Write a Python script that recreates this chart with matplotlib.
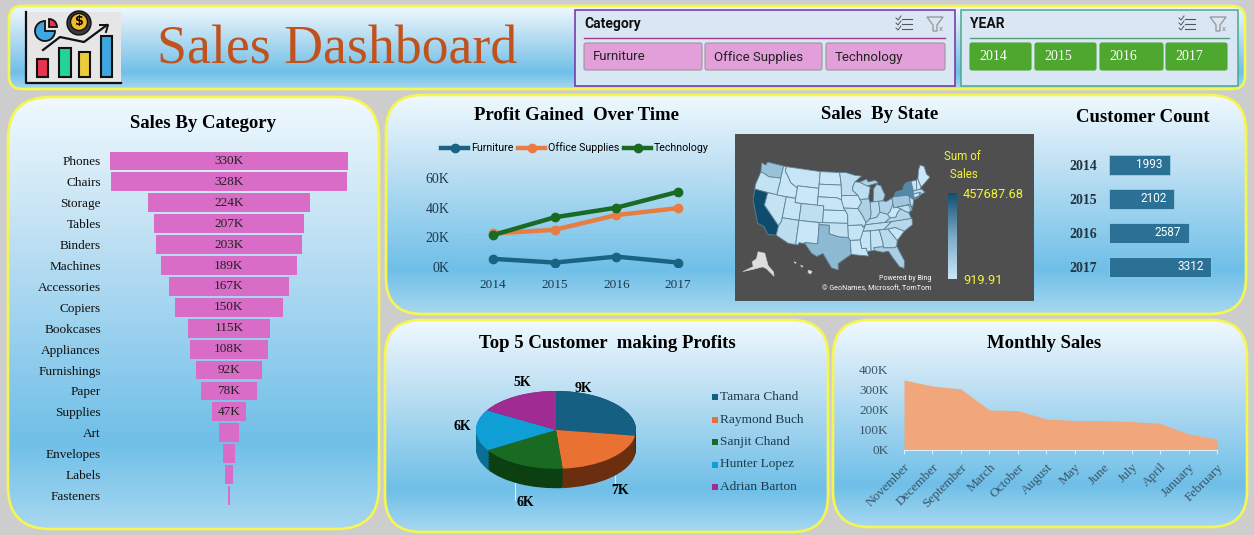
import numpy as np
import matplotlib
matplotlib.use("Agg")
import matplotlib.pyplot as plt
from matplotlib.colors import LinearSegmentedColormap
from matplotlib.patches import FancyBboxPatch, Rectangle, Circle, Wedge, Polygon

W, H = 1254, 535
SERIF = "Liberation Serif"
SANS = "Roboto"

# chart data
categories = ["Phones", "Chairs", "Storage", "Tables", "Binders", "Machines", "Accessories",
              "Copiers", "Bookcases", "Appliances", "Furnishings", "Paper", "Supplies",
              "Art", "Envelopes", "Labels", "Fasteners"]
category_sales = [330, 328, 224, 207, 203, 189, 167, 150, 115, 108, 92, 78, 47, 27, 16, 12, 3]
category_labels = ["330K", "328K", "224K", "207K", "203K", "189K", "167K", "150K", "115K",
                   "108K", "92K", "78K", "47K", "", "", "", ""]

years = [2014, 2015, 2016, 2017]
furniture_profit = [5.5, 3.0, 7.0, 3.0]
office_profit = [22.6, 25.1, 35.0, 39.7]
technology_profit = [21.5, 33.5, 40.0, 50.7]
customer_count = [1993, 2102, 2587, 3312]

top_customers = ["Tamara Chand", "Raymond Buch", "Sanjit Chand", "Hunter Lopez", "Adrian Barton"]
customer_profit = [8981, 6976, 5757, 5622, 5444]

months = ["November", "December", "September", "March", "October", "August", "May", "June",
          "July", "April", "January", "February"]
monthly_sales = [350, 320, 305, 200, 197, 155, 148, 147, 142, 133, 80, 55]

state_sales = {"CA": 457687.68, "NY": 310876, "TX": 170188, "WA": 138641, "PA": 116511, "FL": 89473,
               "IL": 80166, "OH": 78258, "MI": 76269, "VA": 70636, "NC": 55603, "IN": 53555,
               "GA": 49095, "KY": 36591, "NJ": 35764, "AZ": 35282, "WI": 32114, "CO": 32108,
               "TN": 30661, "MN": 29863, "MA": 28634, "DE": 27451, "MD": 23705, "RI": 22627,
               "MO": 22205, "OK": 19683, "AL": 19510, "OR": 17431, "NV": 16729, "CT": 13384,
               "AR": 11678, "UT": 11220, "MS": 10771, "LA": 9217, "VT": 8929, "SC": 8481,
               "NE": 7464, "NH": 7292, "MT": 5589, "NM": 4783, "IA": 4579, "ID": 4382,
               "KS": 2914, "WY": 1603, "SD": 1315, "ME": 1270, "WV": 1209, "ND": 919.91}

# rough state outlines, lon/lat
states = {
    "WA": [(-124.7,48.4),(-123,48.2),(-122.8,49),(-117,49),(-117,46),(-119,45.9),(-121,45.7),(-123,46.2),(-124,46.3)],
    "OR": [(-124,46.3),(-123,46.2),(-121,45.7),(-119,45.9),(-117,46),(-116.9,45),(-117,44),(-117,42),(-124.2,42),(-124.5,43)],
    "CA": [(-124.2,42),(-120,42),(-120,39),(-114.6,35),(-114.7,32.7),(-117.1,32.5),(-118.5,34),(-120.6,34.5),(-122,36.8),(-123.8,39.5)],
    "NV": [(-120,42),(-114,42),(-114,36.2),(-114.6,35),(-120,39)],
    "ID": [(-117,49),(-116,49),(-116,47.9),(-114.5,46.6),(-113.5,45.5),(-111,44.5),(-111,42),(-117,42),(-117,44),(-116.9,45),(-117,46)],
    "MT": [(-116,49),(-104,49),(-104,45),(-111,45),(-111,44.5),(-113.5,45.5),(-114.5,46.6),(-116,47.9)],
    "WY": [(-111,45),(-104,45),(-104,41),(-111,41)],
    "UT": [(-114,42),(-111,42),(-111,41),(-109,41),(-109,37),(-114,37)],
    "AZ": [(-114,37),(-114,36.2),(-114.6,35),(-114.7,32.7),(-111,31.3),(-109,31.3),(-109,37)],
    "CO": [(-109,41),(-102,41),(-102,37),(-109,37)],
    "NM": [(-109,37),(-103,37),(-103,32),(-106.6,32),(-106.5,31.8),(-108.2,31.8),(-108.2,31.3),(-109,31.3)],
    "ND": [(-104,49),(-97.2,49),(-96.6,46),(-104,46)],
    "SD": [(-104,46),(-96.6,46),(-96.5,42.5),(-98,43),(-104,43)],
    "NE": [(-104,43),(-98,43),(-96.5,42.5),(-95.3,40),(-102,40),(-102,41),(-104,41)],
    "KS": [(-102,40),(-95.3,40),(-94.6,39),(-94.6,37),(-102,37)],
    "OK": [(-103,37),(-94.6,37),(-94.5,33.7),(-97,33.8),(-100,34.5),(-100,36.5),(-103,36.5)],
    "TX": [(-103,36.5),(-100,36.5),(-100,34.5),(-97,33.8),(-94.5,33.7),(-94,33),(-93.8,29.7),(-95,29),(-97.3,27.5),(-97.2,26),(-99,26.5),(-101.4,29.8),(-103,29),(-104.5,29.7),(-106.5,31.8),(-106.6,32),(-103,32)],
    "MN": [(-97.2,49),(-95,49),(-92,48.3),(-89.6,48),(-92,46.7),(-92.8,45.5),(-92.8,44.7),(-91.2,43.5),(-96.5,43.5),(-96.6,46)],
    "IA": [(-96.5,43.5),(-91.2,43.5),(-90.2,41.8),(-91.4,40.4),(-95.8,40.6),(-96.5,42.5)],
    "MO": [(-95.8,40.6),(-91.4,40.4),(-90.2,38.8),(-89.2,37),(-89.5,36.5),(-90.3,36),(-90.4,36.5),(-94.6,36.5),(-94.6,39),(-95.3,40)],
    "AR": [(-94.6,36.5),(-90.4,36.5),(-90.3,36),(-89.7,36),(-91.2,33),(-94,33),(-94.5,33.7)],
    "LA": [(-94,33),(-91.2,33),(-90.9,31),(-89.7,31),(-89.5,30.2),(-89.2,29.1),(-91.5,29.4),(-93.8,29.7)],
    "WI": [(-92,46.7),(-90.4,46.6),(-88,45.6),(-87,45.2),(-87.8,43),(-87.8,42.5),(-90.6,42.5),(-91.2,43.5),(-92.8,44.7),(-92.8,45.5)],
    "IL": [(-90.6,42.5),(-87.8,42.5),(-87.5,41.7),(-87.5,39),(-88,37.8),(-89.2,37),(-90.2,38.8),(-91.4,40.4),(-90.2,41.8)],
    "MI": [(-86.5,41.8),(-84.8,41.7),(-83.4,41.7),(-82.5,43),(-83,44),(-83.5,45.3),(-84.8,45.7),(-86,44.7),(-86.3,43)],
    "IN": [(-87.5,41.7),(-84.8,41.7),(-84.8,39.1),(-86,38),(-88,37.8),(-87.5,39)],
    "OH": [(-84.8,41.7),(-83.4,41.7),(-82.5,41.4),(-80.5,42),(-80.5,40.6),(-81.7,39),(-82.6,38.4),(-84.8,39.1)],
    "KY": [(-89.5,36.5),(-83.7,36.6),(-82,37.5),(-82.6,38.4),(-84.8,39.1),(-86,38),(-88,37.8),(-89.2,37)],
    "TN": [(-90.3,35),(-84.3,35),(-81.7,36.6),(-83.7,36.6),(-89.5,36.5),(-89.7,36)],
    "MS": [(-91.2,33),(-90.3,35),(-88.2,35),(-88.4,30.3),(-89.5,30.2),(-89.7,31),(-90.9,31)],
    "AL": [(-88.2,35),(-85.6,35),(-85,32),(-85,31),(-87.6,31),(-87.5,30.3),(-88.4,30.3)],
    "GA": [(-85.6,35),(-83.1,35),(-81,32),(-81.4,30.7),(-82,30.4),(-84.9,30.7),(-85,31),(-85,32)],
    "FL": [(-87.6,31),(-85,31),(-84.9,30.7),(-82,30.4),(-81.4,30.7),(-80,27),(-80.4,25.2),(-81.5,25.8),(-82.8,28),(-83.8,29.8),(-85.3,29.7),(-87.5,30.3)],
    "SC": [(-83.1,35),(-81,35.1),(-78.6,33.9),(-81,32)],
    "NC": [(-84.3,35),(-83.1,35),(-81,35.1),(-78.6,33.9),(-76,35),(-75.7,36.5),(-81.7,36.6)],
    "VA": [(-83.7,36.6),(-81.7,36.6),(-75.9,36.5),(-76.3,38),(-77.2,38.4),(-78.4,39.2),(-79.6,38.5),(-80.3,37.5),(-82,37.5)],
    "WV": [(-82,37.5),(-80.3,37.5),(-79.6,38.5),(-78.4,39.2),(-79.5,39.7),(-80.5,39.7),(-80.5,40.6),(-81.7,39),(-82.6,38.4)],
    "PA": [(-80.5,42),(-79.8,42.3),(-75.3,42),(-75,41.4),(-75.3,39.8),(-80.5,39.7)],
    "NY": [(-79.8,42.3),(-79,43.3),(-76.5,43.5),(-76.3,44.2),(-75,45),(-73.4,45),(-73.4,41.3),(-72,41),(-73.8,40.6),(-74.2,41),(-75,41.4),(-75.3,42)],
    "MD": [(-79.5,39.7),(-75.8,39.7),(-75.1,38.4),(-76.3,38),(-77.2,38.4),(-78.4,39.2)],
    "DE": [(-75.8,39.7),(-75.4,39.8),(-75.1,38.4),(-75.7,38.4)],
    "NJ": [(-75.3,39.8),(-75,41.4),(-74.2,41),(-74,40.4),(-74.9,38.9)],
    "CT": [(-73.7,42),(-71.8,42),(-71.8,41.3),(-73.6,41)],
    "RI": [(-71.8,42),(-71.3,42),(-71.2,41.5),(-71.8,41.3)],
    "MA": [(-73.4,42.7),(-71.3,42.7),(-70.7,42.6),(-70,41.7),(-71.2,41.5),(-71.3,42),(-73.7,42)],
    "VT": [(-73.4,45),(-71.5,45),(-72.4,42.7),(-73.4,42.7)],
    "NH": [(-71.5,45),(-71,45.2),(-70.7,43.1),(-71.3,42.7),(-72.4,42.7)],
    "ME": [(-71,45.2),(-70,47.2),(-69,48.2),(-67.8,47.6),(-67.8,45.7),(-67,44.8),(-70.7,43.1)],
}
michigan_upper = [(-90.4,46.6),(-88,47.2),(-87.5,46.5),(-85,46.7),(-84.2,46),(-85.5,45.9),(-87,45.7),(-88,45.6)]
alaska = [(-118.5,28),(-116.7,28),(-115.2,25.3),(-113.5,24),(-113.2,23),(-115.5,24.5),(-116.5,24.7),(-118.5,23.7),(-121,22.5),(-118.8,24.3),(-119.4,25.3),(-118.5,26.3)]
hawaii = [[(-108.8,27.2),(-108.2,27.1),(-108.4,26.8)], [(-107,26.6),(-106.3,26.4),(-106.6,26.1)], [(-104.9,25.6),(-103.9,25.4),(-104.2,24.7),(-104.9,25)]]

plt.rcParams["font.family"] = [SERIF, "DejaVu Serif"]


def albers(points):
    # conic projection, so the northern border curves like the reference
    lon = np.radians(np.array(points)[:, 0] + 96)
    lat = np.radians(np.array(points)[:, 1])
    p1, p2, p0 = np.radians([29.5, 45.5, 37.5])
    n = (np.sin(p1) + np.sin(p2)) / 2
    c = np.cos(p1) ** 2 + 2 * n * np.sin(p1)
    rho = np.sqrt(c - 2 * n * np.sin(lat)) / n
    rho0 = np.sqrt(c - 2 * n * np.sin(p0)) / n
    return np.column_stack([rho * np.sin(n * lon), rho0 - rho * np.cos(n * lon)])


fig = plt.figure(figsize=(W / 100, H / 100), dpi=100, facecolor="#cdcdcd")
bg = fig.add_axes([0, 0, 1, 1])
bg.set_xlim(0, W)
bg.set_ylim(H, 0)
bg.axis("off")

panel_cmap = LinearSegmentedColormap.from_list(
    "panel", [(0, "#f0f9fe"), (0.3, "#c3e2f4"), (0.8, "#6fbfe8"), (1, "#a8d8f0")])


def panel(x0, y0, x1, y1, r):
    box = FancyBboxPatch((x0 + r, y0 + r), x1 - x0 - 2 * r, y1 - y0 - 2 * r,
                         boxstyle=f"round,pad={r},rounding_size={r}",
                         fc="none", ec="#f6f650", lw=1.9, zorder=3)
    bg.add_patch(box)
    im = bg.imshow(np.linspace(0, 1, 256)[:, None], cmap=panel_cmap, aspect="auto",
                   extent=(x0, x1, y1, y0), zorder=1)
    im.set_clip_path(box)
    bg.set_xlim(0, W)
    bg.set_ylim(H, 0)


def px_axes(x0, y0, x1, y1):
    ax = fig.add_axes([x0 / W, 1 - y1 / H, (x1 - x0) / W, (y1 - y0) / H])
    ax.patch.set_alpha(0)
    return ax


def title(x, y, s):
    bg.text(x, y, s, ha="center", va="center", fontsize=13.5, fontweight="bold", color="black", zorder=5)


panel(9, 6, 1245, 89, 13)
panel(8, 97, 379, 529, 42)
panel(386, 95, 1246, 314, 36)
panel(385, 320, 828, 532, 36)
panel(833, 320, 1247, 527, 36)

# logo
bg.add_patch(Rectangle((26, 12), 95, 72, fc="#e6e6e6", ec="none", zorder=4))
bg.plot([26, 26, 121], [12, 83, 83], color="#111111", lw=1.6, zorder=5)
for lx, ly, lw_, col in [(37, 59, 11, "#e8344e"), (59, 48, 12, "#23d39a"), (79, 52, 11, "#eccb3a"), (101, 36, 11, "#3ea6e0")]:
    bg.add_patch(Rectangle((lx, ly), lw_, 77 - ly, fc=col, ec="#111111", lw=1.5, zorder=5))
bg.add_patch(Circle((79, 23), 12, fc="#3a3a3a", ec="#111111", zorder=5))
bg.add_patch(Circle((79, 22), 8.5, fc="#f0b82d", ec="#111111", lw=1, zorder=6))
bg.text(79, 22, "$", ha="center", va="center", fontsize=9, fontweight="bold", family="DejaVu Sans", zorder=7)
bg.add_patch(Wedge((45, 31), 10, 0, 270, fc="#3ea6e0", ec="#111111", lw=1.3, zorder=5))
bg.add_patch(Wedge((49, 27), 8, 270, 360, fc="#e8344e", ec="#111111", lw=1.3, zorder=5))
bg.plot([43, 60, 84, 107], [50, 37, 42, 25], color="#111111", lw=1.6, zorder=6)
bg.plot([100, 108, 106], [25, 25, 32], color="#111111", lw=1.4, zorder=6)

bg.text(337, 50, "Sales Dashboard", ha="center", va="center", fontsize=38.7, color="#c0531d", zorder=5)


def slicer_icons(x, y):
    for dy in (-5, 0, 5):
        bg.plot([x + 6, x + 16], [y + dy, y + dy], color="#555555", lw=0.8, zorder=6)
        bg.plot([x, x + 2, x + 5], [y + dy - 1, y + dy + 1, y + dy - 3], color="#555555", lw=0.7, zorder=6)
    bg.add_patch(Polygon([(x + 31, y - 7), (x + 47, y - 7), (x + 41, y + 1), (x + 41, y + 7), (x + 37, y + 7), (x + 37, y + 1)],
                         fc="none", ec="#9b9b9b", lw=1, zorder=6))
    bg.text(x + 45, y + 5, "x", ha="center", va="center", fontsize=6, color="#888888", family=SANS, zorder=6)


def slicer(x0, x1, name, edge, rule, rule_range, icon_x, buttons, fill, btn_edge, txt, font, size):
    bg.add_patch(Rectangle((x0, 9.5), x1 - x0, 76, fc="#d9e7f5", ec=edge, lw=1.1, zorder=4))
    bg.text(rule_range[0], 24, name, ha="left", va="center", fontsize=10, fontweight="bold", family=SANS, color="#111111", zorder=5)
    bg.plot(rule_range, [38, 38], color=rule, lw=1, zorder=5)
    for b0, b1, label in buttons:
        bg.add_patch(FancyBboxPatch((b0 + 2, 45), b1 - b0 - 4, 23, boxstyle="round,pad=2,rounding_size=2",
                                    fc=fill, ec=btn_edge, lw=0.8, zorder=5))
        bg.text(b0 + 9, 57, label, ha="left", va="center", fontsize=size, color=txt, zorder=6, family=font)
    slicer_icons(icon_x, 24)


slicer(575, 955, "Category", "#7030a0", "#a03a8f", [584, 945], 896,
       [(584, 702, "Furniture"), (705, 822, "Office Supplies"), (826, 945, "Technology")],
       "#e29fda", "#999999", "#222222", SANS, 9.5)
slicer(961, 1238, "YEAR", "#4ea88a", "#5a9a7a", [970, 1229], 1179,
       [(970, 1031, "2014"), (1035, 1096, "2015"), (1100, 1163, "2016"), (1166, 1227, "2017")],
       "#4ea72e", "#4ea72e", "white", SERIF, 10)

# sales by category funnel
title(203, 123.5, "Sales By Category")
ax = px_axes(110, 150.5, 348, 506)
row = np.arange(len(categories))
ax.barh(row, category_sales, left=[-v / 2 for v in category_sales], height=0.9, color="#d86cc6")
ax.set_xlim(-165, 165)
ax.set_ylim(len(categories) - 0.5, -0.5)
ax.set_yticks(row, categories, fontsize=9.5, color="#111111")
ax.set_xticks([])
ax.tick_params(length=0, pad=6.5)
for sp in ax.spines.values():
    sp.set_visible(False)
for i, lab in enumerate(category_labels):
    ax.text(0, i, lab, ha="center", va="center", fontsize=9.5, color="#222222")

# profit over time
title(577, 115.5, "Profit Gained  Over Time")
ax = px_axes(462, 178, 709, 267)
ax.plot(years, furniture_profit, "-o", color="#1a6385", lw=3.2, ms=6, label="Furniture")
ax.plot(years, office_profit, "-o", color="#e97c42", lw=3.2, ms=6, label="Office Supplies")
ax.plot(years, technology_profit, "-o", color="#196b24", lw=3.2, ms=6, label="Technology")
ax.set_xlim(2013.5, 2017.5)
ax.set_ylim(0, 60)
ax.set_xticks(years, [str(y) for y in years], fontsize=9.5, color="#1d3a4d")
ax.set_yticks([0, 20, 40, 60], ["0K", "20K", "40K", "60K"], fontsize=10, color="#1d3a4d")
ax.tick_params(length=0, pad=9)
ax.grid(axis="y", color="#a9d6ef", lw=0.5, alpha=0.35)
ax.set_axisbelow(True)
for sp in ax.spines.values():
    sp.set_visible(False)
ax.legend(loc="center", bbox_to_anchor=(575 / W, 1 - 148 / H), bbox_transform=fig.transFigure, ncol=3, frameon=False,
          prop={"family": SANS, "size": 7.7}, handlelength=2.5, handletextpad=0.25, columnspacing=0.5, borderpad=0)

# sales by state
title(880, 114.5, "Sales  By State")
bg.add_patch(Rectangle((735, 134), 299, 167, fc="#4f4f4f", ec="none", zorder=4))
state_cmap = LinearSegmentedColormap.from_list("state", ["#c9e7f6", "#7aa9c6", "#0e4c6d"])
ax = px_axes(753, 162, 930, 270)
vmax = max(state_sales.values())
for code, outline in states.items():
    ax.add_patch(Polygon(albers(outline), fc=state_cmap(state_sales[code] / vmax), ec="#5f8297", lw=0.6))
ax.add_patch(Polygon(albers(michigan_upper), fc=state_cmap(state_sales["MI"] / vmax), ec="#5f8297", lw=0.6))
ax.add_patch(Polygon(albers(alaska), fc="#dedede", ec="#cccccc", lw=0.4, clip_on=False))
for isle in hawaii:
    ax.add_patch(Polygon(albers(isle), fc="#dedede", ec="#cccccc", lw=0.4, clip_on=False))
all_pts = albers([p for o in states.values() for p in o])
ax.set_xlim(all_pts[:, 0].min(), all_pts[:, 0].max())
ax.set_ylim(all_pts[:, 1].min(), all_pts[:, 1].max())
ax.axis("off")

cax = px_axes(948, 193, 957, 279)
cax.imshow(np.linspace(1, 0, 128)[:, None], cmap=state_cmap, aspect="auto")
cax.axis("off")
bg.text(962, 165, "Sum of\n Sales", ha="center", va="center", fontsize=8.3, color="#f4f43a", family=SANS, zorder=6, linespacing=1.5)
bg.text(963, 194, "457687.68", ha="left", va="center", fontsize=9.2, color="#f4f43a", family=SANS, zorder=6)
bg.text(963, 281, "919.91", ha="left", va="center", fontsize=9.2, color="#f4f43a", family=SANS, zorder=6)
bg.text(931, 279, "Powered by Bing", ha="right", va="center", fontsize=5, color="white", family=SANS, zorder=6)
bg.text(931, 289, "© GeoNames, Microsoft, TomTom", ha="right", va="center", fontsize=5.1, color="white", family=SANS, zorder=6)

# customer count
title(1143, 118, "Customer Count")
ax = px_axes(1109, 148, 1220, 284)
ax.barh(range(4), customer_count, height=0.6, color="#2b7196", ec="#a5d5ee", lw=0.5)
ax.set_xlim(0, 111 / 102 * 3312)
ax.set_ylim(3.5, -0.5)
ax.set_yticks(range(4), [str(y) for y in years], fontsize=10, fontweight="bold", color="#22343f")
ax.set_xticks([])
ax.tick_params(length=0, pad=8.5)
for sp in ax.spines.values():
    sp.set_visible(False)
for i, v in enumerate(customer_count):
    ax.text(v - 240, i, str(v), ha="right", va="center", fontsize=8.5, color="white", family=SANS)

# top 5 customers, 3D look by stacking darker pies
title(607, 343.5, "Top 5 Customer  making Profits")
pie_colors = ["#156082", "#e97132", "#196b24", "#0f9ed5", "#a02b93"]
side_colors = ["#0c3a4f", "#6b2f10", "#0c4012", "#0a6f96", "#6a1c62"]
ax = px_axes(476, 391, 636, 489)
for off in np.linspace(-0.5, 0, 14):
    ax.pie(customer_profit, colors=side_colors, startangle=90, counterclock=False, radius=1, center=(0, off))
ax.pie(customer_profit, colors=pie_colors, startangle=90, counterclock=False, radius=1, center=(0, 0))
ax.set_aspect("auto")
ax.set_xlim(-1, 1)
ax.set_ylim(-1.52, 1.0)
ax.axis("off")

for px, py, lab in [(583, 388, "9K"), (522, 383, "5K"), (462, 427, "6K"), (620, 491, "7K"), (525, 502, "6K")]:
    bg.text(px, py, lab, ha="center", va="center", fontsize=10, fontweight="bold", zorder=6)
bg.plot([515, 515], [482, 500], color="#d8eefa", lw=0.8, zorder=2)
bg.plot([615, 615], [472, 483], color="#d8eefa", lw=0.8, zorder=2)
for i, name in enumerate(top_customers):
    y = 397 + i * 22.5
    bg.add_patch(Rectangle((712, y - 3), 6, 6, fc=pie_colors[i], ec="none", zorder=6))
    bg.text(720, y, name, ha="left", va="center", fontsize=9.6, color="#1d3a4d", zorder=6)

# monthly sales
title(1044, 344, "Monthly Sales")
ax = px_axes(904, 370, 1217, 450)
pos = np.arange(len(months))
ax.fill_between(pos, monthly_sales, color="#f2a67c", lw=0)
ax.set_xlim(0, len(months) - 1)
ax.set_ylim(0, 400)
ax.set_xticks(pos, months, rotation=45, ha="right", rotation_mode="anchor", fontsize=9.5, color="#3a5566")
ax.set_yticks([0, 100, 200, 300, 400], ["0K", "100K", "200K", "300K", "400K"], fontsize=9.5, color="#3a5566")
ax.tick_params(axis="y", length=0, pad=11)
ax.tick_params(axis="x", length=3, color="#d8eefa", pad=5)
for name, sp in ax.spines.items():
    sp.set_visible(name == "bottom")
ax.spines["bottom"].set_color("#d8eefa")

fig.savefig("out.png", dpi=100, facecolor=fig.get_facecolor())
